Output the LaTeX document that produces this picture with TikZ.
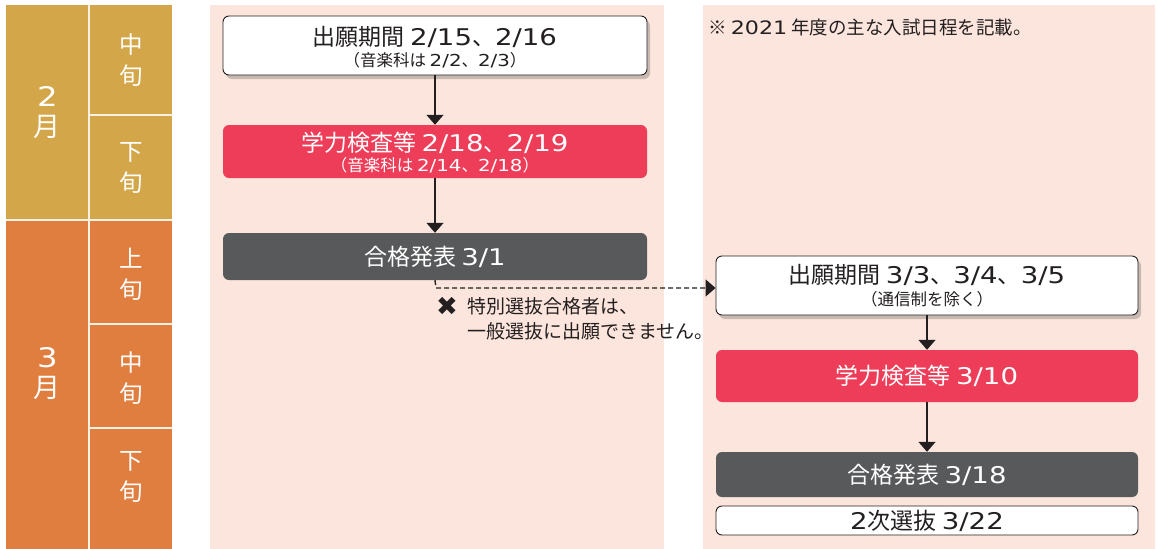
\documentclass[tikz,border=0pt]{standalone}
\usepackage{fontspec}
\setmainfont{Noto Sans CJK JP}
\newfontfamily\symfont{DejaVu Sans}
\newfontfamily\lat[FakeStretch=1.2]{DejaVu Sans}
\newcommand\dg[1]{{\lat #1}}
\usetikzlibrary{arrows.meta,shadows}
\definecolor{gold}{HTML}{D4A64A}
\definecolor{orng}{HTML}{E07E3F}
\definecolor{panel}{HTML}{FCE5DC}
\definecolor{redbox}{HTML}{EE3D58}
\definecolor{graybox}{HTML}{58595B}
\definecolor{ink}{HTML}{231F20}
\tikzset{
  cell/.style={draw=white!85!gold,line width=1.5pt},
  celltext/.style={text=white,align=center,font=\fontsize{23.5}{31}\selectfont},
  monthtext/.style={text=white,align=center,font=\fontsize{27}{30}\selectfont},
  whitebox/.style={draw=ink,line width=0.9pt,fill=white,rounded corners=6pt,
     drop shadow={shadow xshift=3pt,shadow yshift=-4pt,opacity=0.35,fill=black!60},
     text=ink,align=center},
  redb/.style={fill=redbox,rounded corners=6pt,text=white,align=center},
  grayb/.style={fill=graybox,rounded corners=6pt,text=white,align=center},
  flow/.style={line width=1.5pt,ink,-{Triangle[width=17pt,length=10pt]}},
  big/.style={font=\fontsize{23}{25}\selectfont},
  small/.style={font=\fontsize{16.5}{18}\selectfont},
  remark/.style={anchor=west,text=ink,font=\fontsize{19}{21}\selectfont,inner sep=0},
}
\begin{document}
\begin{tikzpicture}[x=1pt,y=-1pt]
\useasboundingbox (0,0) rectangle (1157,549);
% left calendar
\fill[gold] (6,5) rectangle (172,220);
\fill[orng] (6,220) rectangle (172,549);
\draw[cell] (6,220) -- (172,220);
\draw[cell] (89,5) -- (89,549);
\draw[cell] (89,115) -- (172,115);
\draw[cell] (89,324) -- (172,324);
\draw[cell] (89,428) -- (172,428);
\node[monthtext] (feb) at (47.5,113) {\dg{2}\\月};
\node[monthtext] (mar) at (47.5,374) {\dg{3}\\月};
\node[celltext] (f1) at (131,60.5) {中\\旬};
\node[celltext] (f2) at (131,167.5) {下\\旬};
\node[celltext] (m1) at (131,274) {上\\旬};
\node[celltext] (m2) at (131,378) {中\\旬};
\node[celltext] (m3) at (131,477) {下\\旬};
% panels
\fill[panel] (210,5) rectangle (664,549);
\fill[panel] (703,5) rectangle (1155,549);
% note
\node[anchor=west,text=ink,font=\fontsize{18.5}{20}\selectfont,inner sep=0] (note) at (708,27) {※ \dg{2021} 年度の主な入試日程を記載。};
% left flow
\node[whitebox,minimum width=424,minimum height=59] (b1) at (435,45.5) {};
\node[text=ink,big] (b1t) at (435,37) {出願期間 \dg{2/15}、\dg{2/16}};
\node[text=ink,small] (b1s) at (435,60) {（音楽科は \dg{2/2}、\dg{2/3}）};
\node[redb,minimum width=424,minimum height=53] (b2) at (435,151.5) {};
\node[text=white,big] (b2t) at (435,143) {学力検査等 \dg{2/18}、\dg{2/19}};
\node[text=white,small] (b2s) at (435,165) {（音楽科は \dg{2/14}、\dg{2/18}）};
\node[grayb,minimum width=424,minimum height=47,big] (b3) at (435,256.5) {合格発表 \dg{3/1}};
\draw[flow] (b1.south) -- (b2.north);
\draw[flow] (b2.south) -- (b3.north);
% right flow
\node[whitebox,minimum width=422,minimum height=59] (r1) at (927,285.5) {};
\node[text=ink,big] (r1t) at (927,275) {出願期間 \dg{3/3}、\dg{3/4}、\dg{3/5}};
\node[text=ink,small] (r1s) at (927,299.5) {（通信制を除く）};
\node[redb,minimum width=422,minimum height=52,big] (r2) at (927,376) {学力検査等 \dg{3/10}};
\node[grayb,minimum width=422,minimum height=45,big] (r3) at (927,474.5) {合格発表 \dg{3/18}};
\node[draw=ink,line width=0.9pt,fill=white,rounded corners=6pt,minimum width=422,minimum height=29,text=ink,big] (r4) at (927,520.5) {\dg{2}次選抜 \dg{3/22}};
\draw[flow] (r1.south) -- (r2.north);
\draw[flow] (r2.south) -- (r3.north);
% dashed connection
\coordinate (bend) at (436,288);
\draw[ink,line width=1.4pt,dash pattern=on 5pt off 3pt,-{Triangle[width=17pt,length=10pt]}] (b3.south) -- (bend) -- (r1.west |- bend);
% note under
\node[anchor=west,text=ink,font=\fontsize{26}{28}\selectfont\symfont,inner sep=0] (x) at (436,306) {✖};
\node[remark] (n1) at (467,306) {特別選抜合格者は、};
\node[remark] (n2) at (467,331) {一般選抜に出願できません。};
\end{tikzpicture}
\end{document}
